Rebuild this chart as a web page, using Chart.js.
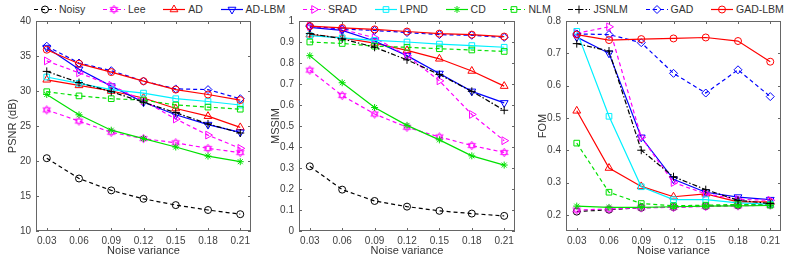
<!DOCTYPE html>
<html>
<head>
<meta charset="utf-8">
<script src="https://cdn.jsdelivr.net/npm/chart.js@4.4.0/dist/chart.umd.min.js"></script>
<style>
  body { margin: 0; background: #fff; width: 801px; height: 260px; overflow: hidden; position: relative;
         font-family: "Liberation Sans", Arial, sans-serif; }
  .panel { position: absolute; top: 10px; height: 250px; }
  #legend { position: absolute; top: 1px; left: 34px; width: 750px; height: 15px; display: flex;
            justify-content: space-between; align-items: center; font-size: 10.5px; color: #333; }
  .item { display: flex; align-items: center; }
  .item canvas { margin-right: 3px; }
</style>
</head>
<body>
<div id="legend"></div>
<div class="panel" style="left:0;width:262px"><canvas id="psnrChart"></canvas></div>
<div class="panel" style="left:263px;width:262px"><canvas id="mssimChart"></canvas></div>
<div class="panel" style="left:530px;width:271px"><canvas id="fomChart"></canvas></div>
<script>
const noiseVar = [0.03, 0.06, 0.09, 0.12, 0.15, 0.18, 0.21];
const methods = ['Noisy', 'Lee', 'AD', 'AD-LBM', 'SRAD', 'LPND', 'CD', 'NLM', 'JSNLM', 'GAD', 'GAD-LBM'];

// rows follow the methods order
const psnrData = [
  [20.4, 17.5, 15.8, 14.6, 13.7, 13.0, 12.4],
  [27.3, 25.7, 24.1, 23.2, 22.6, 21.8, 21.2],
  [31.6, 30.8, 30.0, 29.0, 27.5, 26.4, 24.8],
  [36.2, 33.1, 30.7, 28.4, 26.6, 25.2, 24.1],
  [34.3, 32.6, 30.8, 28.6, 26.0, 23.7, 21.8],
  [32.0, 31.1, 30.2, 29.7, 28.9, 28.5, 28.0],
  [29.5, 26.6, 24.4, 23.2, 22.0, 20.7, 19.9],
  [29.9, 29.3, 28.9, 28.7, 28.0, 27.7, 27.4],
  [32.8, 31.2, 29.9, 28.4, 26.9, 25.3, 24.0],
  [36.4, 34.0, 32.9, 31.4, 30.3, 30.2, 28.9],
  [35.9, 33.9, 32.7, 31.4, 30.2, 29.5, 28.7]
];
const mssimData = [
  [0.308, 0.197, 0.143, 0.116, 0.096, 0.083, 0.072],
  [0.766, 0.645, 0.557, 0.494, 0.448, 0.407, 0.374],
  [0.935, 0.920, 0.895, 0.860, 0.820, 0.762, 0.690],
  [0.970, 0.955, 0.905, 0.835, 0.750, 0.665, 0.610],
  [0.975, 0.960, 0.920, 0.835, 0.715, 0.555, 0.430],
  [0.930, 0.920, 0.908, 0.900, 0.890, 0.883, 0.875],
  [0.835, 0.706, 0.588, 0.503, 0.434, 0.358, 0.314],
  [0.900, 0.893, 0.880, 0.875, 0.868, 0.862, 0.855],
  [0.940, 0.915, 0.875, 0.815, 0.745, 0.665, 0.575],
  [0.975, 0.962, 0.955, 0.945, 0.935, 0.932, 0.922],
  [0.976, 0.967, 0.960, 0.950, 0.940, 0.935, 0.926]
];
const fomData = [
  [0.210, 0.216, 0.222, 0.224, 0.227, 0.229, 0.232],
  [0.215, 0.218, 0.222, 0.223, 0.226, 0.228, 0.230],
  [0.522, 0.345, 0.288, 0.256, 0.265, 0.240, 0.240],
  [0.750, 0.700, 0.440, 0.310, 0.270, 0.255, 0.247],
  [0.762, 0.782, 0.440, 0.300, 0.265, 0.248, 0.245],
  [0.768, 0.505, 0.287, 0.247, 0.247, 0.237, 0.233],
  [0.227, 0.223, 0.223, 0.225, 0.227, 0.228, 0.229],
  [0.422, 0.270, 0.235, 0.228, 0.230, 0.232, 0.230],
  [0.730, 0.707, 0.400, 0.318, 0.278, 0.245, 0.235],
  [0.760, 0.758, 0.733, 0.638, 0.577, 0.649, 0.566],
  [0.758, 0.741, 0.744, 0.746, 0.749, 0.738, 0.674]
];

const psnrTicks = [10, 15, 20, 25, 30, 35, 40];
const mssimTicks = [0, 0.1, 0.2, 0.3, 0.4, 0.5, 0.6, 0.7, 0.8, 0.9, 1];
const fomTicks = [0.2, 0.3, 0.4, 0.5, 0.6, 0.7, 0.8];

function hexagram(color) {
  const c = document.createElement('canvas');
  c.width = c.height = 11;
  const g = c.getContext('2d');
  g.strokeStyle = color;
  g.lineWidth = 0.9;
  [-Math.PI / 2, Math.PI / 2].forEach(rot => {
    g.beginPath();
    for (let k = 0; k < 3; k++) {
      const a = rot + k * 2 * Math.PI / 3;
      const px = 5.5 + 4.3 * Math.cos(a), py = 5.5 + 4.3 * Math.sin(a);
      k ? g.lineTo(px, py) : g.moveTo(px, py);
    }
    g.closePath();
    g.stroke();
  });
  return c;
}

const DASH = [4, 3];
const DASHDOT = [5, 2, 1.5, 2];
const styles = [
  { color: '#000000', dash: DASH, point: 'circle', r: 3.5 },
  { color: '#ff00ff', dash: DASH, point: hexagram('#ff00ff'), r: 4 },
  { color: '#ff0000', dash: [], point: 'triangle', r: 4.5 },
  { color: '#0000ff', dash: [], point: 'triangle', r: 4.5, rot: 180 },
  { color: '#ff00ff', dash: DASH, point: 'triangle', r: 4.5, rot: 90 },
  { color: '#00f0ff', dash: [], point: 'rect', r: 4 },
  { color: '#00e000', dash: [], point: 'star', r: 3.5 },
  { color: '#00e000', dash: DASH, point: 'rect', r: 4 },
  { color: '#000000', dash: DASHDOT, point: 'cross', r: 4 },
  { color: '#0000ff', dash: DASH, point: 'rectRot', r: 4 },
  { color: '#ff0000', dash: [], point: 'circle', r: 3.5 }
];

// MATLAB-like box with inward ticks
const boxPlugin = {
  id: 'box',
  beforeDatasetsDraw(chart) {
    const { ctx, chartArea: a, scales: { x, y } } = chart;
    ctx.save();
    ctx.strokeStyle = '#666';
    ctx.lineWidth = 1;
    ctx.strokeRect(Math.round(a.left) + 0.5, Math.round(a.top) + 0.5,
                   Math.round(a.right - a.left) - 1, Math.round(a.bottom - a.top) - 1);
    const L = 3;
    ctx.beginPath();
    x.ticks.forEach(t => {
      const px = Math.round(x.getPixelForValue(t.value)) + 0.5;
      ctx.moveTo(px, a.bottom); ctx.lineTo(px, a.bottom - L);
      ctx.moveTo(px, a.top); ctx.lineTo(px, a.top + L);
    });
    y.ticks.forEach(t => {
      const py = Math.round(y.getPixelForValue(t.value)) + 0.5;
      ctx.moveTo(a.left, py); ctx.lineTo(a.left + L, py);
      ctx.moveTo(a.right, py); ctx.lineTo(a.right - L, py);
    });
    ctx.stroke();
    ctx.restore();
  }
};

const tickFont = { family: '"Liberation Sans", Arial, sans-serif', size: 10 };
const titleFont = { family: '"Liberation Sans", Arial, sans-serif', size: 11 };

function makeChart(id, rows, yMin, yMax, yTicks, yTitle, padRight) {
  const datasets = rows.map((vals, i) => {
    const s = styles[i];
    return {
      label: methods[i],
      data: noiseVar.map((x, j) => ({ x, y: vals[j] })),
      borderColor: s.color,
      borderWidth: 1.2,
      borderDash: s.dash,
      pointStyle: s.point,
      pointRadius: s.r,
      pointRotation: s.rot || 0,
      pointBorderColor: s.color,
      pointBackgroundColor: 'rgba(0,0,0,0)',
      pointBorderWidth: 1,
      tension: 0,
      order: methods.length - i
    };
  });
  return new Chart(document.getElementById(id), {
    type: 'line',
    data: { datasets },
    options: {
      responsive: true,
      maintainAspectRatio: false,
      animation: false,
      layout: { padding: { top: 9, right: padRight, left: 0, bottom: 0 } },
      plugins: { legend: { display: false }, tooltip: { enabled: false } },
      scales: {
        x: {
          type: 'linear', min: 0.02, max: 0.22,
          afterBuildTicks: ax => { ax.ticks = noiseVar.map(v => ({ value: v })); },
          afterFit: ax => { ax.height = 29; },
          grid: { display: false, drawTicks: false },
          border: { display: false },
          ticks: { font: tickFont, color: '#404040', padding: 4, maxRotation: 0,
                   callback: v => v.toFixed(2) },
          title: { display: true, text: 'Noise variance', font: titleFont, color: '#333',
                   padding: { top: 0, bottom: 2 } }
        },
        y: {
          min: yMin, max: yMax,
          afterBuildTicks: ax => { ax.ticks = yTicks.map(v => ({ value: v })); },
          afterFit: ax => { ax.width = 36; },
          grid: { display: false, drawTicks: false },
          border: { display: false },
          ticks: { font: tickFont, color: '#404040', padding: 5,
                   callback: v => String(+v.toFixed(2)) },
          title: { display: true, text: yTitle, font: titleFont, color: '#333',
                   padding: { top: 6, bottom: 0 } }
        }
      }
    },
    plugins: [boxPlugin]
  });
}

makeChart('psnrChart', psnrData, 10, 40, psnrTicks, 'PSNR (dB)', 11);
makeChart('mssimChart', mssimData, 0, 1, mssimTicks, 'MSSIM', 10);
makeChart('fomChart', fomData, 0.15, 0.8, fomTicks, 'FOM', 20);

// shared legend: line sample with marker, then name
const legend = document.getElementById('legend');
methods.forEach((name, i) => {
  const s = styles[i];
  const item = document.createElement('div');
  item.className = 'item';
  const c = document.createElement('canvas');
  c.width = 22; c.height = 12;
  const g = c.getContext('2d');
  g.strokeStyle = s.color;
  g.lineWidth = 1.2;
  g.setLineDash(s.dash);
  g.beginPath(); g.moveTo(0, 6.5); g.lineTo(22, 6.5); g.stroke();
  g.setLineDash([]);
  g.lineWidth = 1;
  g.fillStyle = 'rgba(0,0,0,0)';
  Chart.helpers.drawPoint(g, { pointStyle: s.point, radius: s.r, rotation: s.rot || 0, borderWidth: 1 }, 11, 6.5);
  const t = document.createElement('span');
  t.textContent = name;
  item.appendChild(c);
  item.appendChild(t);
  legend.appendChild(item);
});
</script>
</body>
</html>
